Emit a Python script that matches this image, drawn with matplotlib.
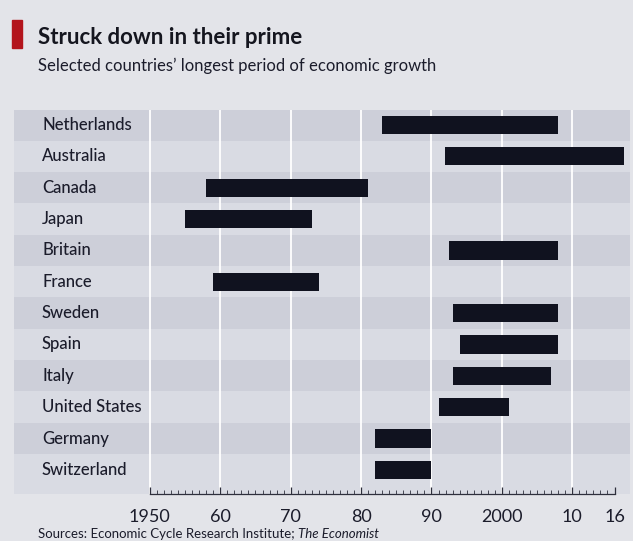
import numpy as np
import matplotlib.pyplot as plt
import matplotlib as mpl
from matplotlib.patches import Rectangle
from matplotlib.ticker import FixedLocator
import matplotlib.transforms as mtransforms

mpl.rcParams['font.family'] = ['Lato', 'DejaVu Sans']

countries = ['Netherlands', 'Australia', 'Canada', 'Japan', 'Britain', 'France',
             'Sweden', 'Spain', 'Italy', 'United States', 'Germany', 'Switzerland']
start_year = [1983, 1991.9, 1958, 1955, 1992.5, 1959,
              1993, 1994, 1993, 1991, 1982, 1982]
end_year = [2008, 2017.3, 1981, 1973, 2008, 1974,
            2008, 2008, 2007, 2001, 1990, 1990]
tick_years = [1950, 1960, 1970, 1980, 1990, 2000, 2010, 2016]
tick_labels = ['1950', '60', '70', '80', '90', '2000', '10', '16']
grid_years = [1950, 1960, 1970, 1980, 1990, 2000, 2010]

W, H = 633, 541
fig = plt.figure(figsize=(W / 100, H / 100), dpi=100)
fig.patch.set_facecolor('#e3e4e9')

# panel: 14..630 px wide, 110..494 px tall
ax = fig.add_axes([14 / W, 1 - 494 / H, 616 / W, 384 / H])
ax.set_facecolor('#d9dbe3')
ax.set_xlim(1930.7, 2018.2)
ax.set_ylim(11.77, -0.48)

y = np.arange(len(countries))
for i in y:
    if i % 2 == 0:
        ax.axhspan(i - 0.5, i + 0.5, color='#cdcfd9', lw=0, zorder=0)

for g in grid_years:
    ax.axvline(g, color='white', lw=1.3, zorder=1)

widths = np.array(end_year) - np.array(start_year)
ax.barh(y, widths, left=start_year, height=0.58, color='#10121f', zorder=3)

# country labels on the left
trans = mtransforms.blended_transform_factory(fig.transFigure, ax.transData)
for i, c in enumerate(countries):
    ax.text(42 / W, i, c, transform=trans, ha='left', va='center',
            fontsize=12, fontweight='medium', color='#1b1c2b')

for s in ['top', 'left', 'right']:
    ax.spines[s].set_visible(False)
ax.spines['bottom'].set_bounds(1950, 2016)
ax.spines['bottom'].set_color('#2e2f3c')
ax.spines['bottom'].set_linewidth(0.9)
ax.set_yticks([])
ax.xaxis.set_major_locator(FixedLocator(tick_years))
ax.xaxis.set_minor_locator(FixedLocator(np.arange(1950, 2017)))
ax.set_xticklabels(tick_labels)
ax.tick_params(axis='x', which='major', direction='in', length=5, width=0.9,
               color='#2e2f3c', pad=11, labelsize=13, labelcolor='#1b1c2b')
ax.tick_params(axis='x', which='minor', direction='in', length=3, width=0.6,
               color='#2e2f3c')

# header
fig.patches.append(Rectangle((12 / W, 1 - 48 / H), 10 / W, 28 / H,
                             transform=fig.transFigure, color='#b3141c'))
fig.text(38 / W, 1 - 38 / H, 'Struck down in their prime', fontsize=16,
         fontweight='bold', color='#15161f', va='center', ha='left')
fig.text(38 / W, 1 - 66 / H, 'Selected countries\u2019 longest period of economic growth',
         fontsize=12, color='#1b1c2b', va='center', ha='left')

# source line
src = fig.text(38 / W, 1 - 534 / H, 'Sources: Economic Cycle Research Institute; ',
               fontsize=9.5, color='#1b1c2b', va='center', ha='left')
fig.canvas.draw()
bb = src.get_window_extent(renderer=fig.canvas.get_renderer())
fig.text(bb.x1 / W, 1 - 534 / H, 'The Economist', fontsize=9.5, style='italic',
         color='#1b1c2b', va='center', ha='left')

fig.savefig('out.png', dpi=100, facecolor=fig.get_facecolor())
